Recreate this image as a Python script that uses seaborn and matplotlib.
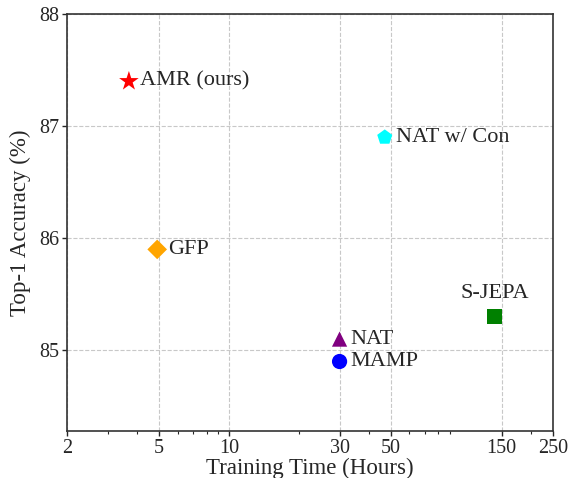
import pandas as pd
import seaborn as sns
import matplotlib.pyplot as plt
from matplotlib.ticker import FixedLocator, NullFormatter

methods = ['AMR (ours)', 'NAT w/ Con', 'GFP', 'S-JEPA', 'NAT', 'MAMP']
train_hours = [3.7, 47, 4.9, 140, 30, 30]
top1_acc = [87.4, 86.9, 85.9, 85.3, 85.1, 84.9]
colors = ['red', 'cyan', 'orange', 'green', 'purple', 'blue']
markers = ['*', 'p', 'D', 's', '^', 'o']
xticks = [2, 5, 10, 30, 50, 150, 250]
yticks = [85, 86, 87, 88]

df = pd.DataFrame({'method': methods, 'hours': train_hours, 'acc': top1_acc})

sns.set_style('white')
plt.rcParams['font.family'] = ['Liberation Serif', 'DejaVu Serif']

fig, ax = plt.subplots(figsize=(5.75, 4.78), dpi=100)
fig.subplots_adjust(left=0.1165, right=0.9617, top=0.9707, bottom=0.0983)

sizes = {'*': 220, 'p': 130, 'D': 100, 's': 110, '^': 120, 'o': 120}
for m, mk, c in zip(methods, markers, colors):
    sub = df[df['method'] == m]
    sns.scatterplot(data=sub, x='hours', y='acc', marker=mk, color=c,
                    s=sizes[mk], edgecolor='none', ax=ax, zorder=3)

ax.set_xscale('log')
ax.set_xlim(2, 250)
ax.set_ylim(84.28, 88)
ax.xaxis.set_major_locator(FixedLocator(xticks))
ax.set_xticklabels([str(t) for t in xticks])
ax.xaxis.set_minor_formatter(NullFormatter())
ax.set_yticks(yticks)
ax.tick_params(axis='both', which='major', labelsize=14.5, direction='out', length=3.5, width=1, pad=2,
               bottom=True, left=True)
ax.tick_params(axis='x', which='minor', direction='out', length=2.5, width=0.8, bottom=True)

ax.grid(True, which='major', linestyle='--', color='#c8c8c8', linewidth=0.8)
ax.set_axisbelow(True)
for sp in ax.spines.values():
    sp.set_color('#333333')
    sp.set_linewidth(1.2)

ax.set_xlabel('Training Time (Hours)', fontsize=16.5, labelpad=0)
ax.set_ylabel('Top-1 Accuracy (%)', fontsize=16.5, labelpad=6)

for m, x, y in zip(methods, train_hours, top1_acc):
    if m == 'S-JEPA':
        ax.annotate(m, (x, y), xytext=(0, 10), textcoords='offset points',
                    ha='center', va='bottom', fontsize=16)
    else:
        ax.annotate(m, (x, y), xytext=(8, 0), textcoords='offset points',
                    ha='left', va='center', fontsize=16)

plt.savefig('out.png', dpi=100)
